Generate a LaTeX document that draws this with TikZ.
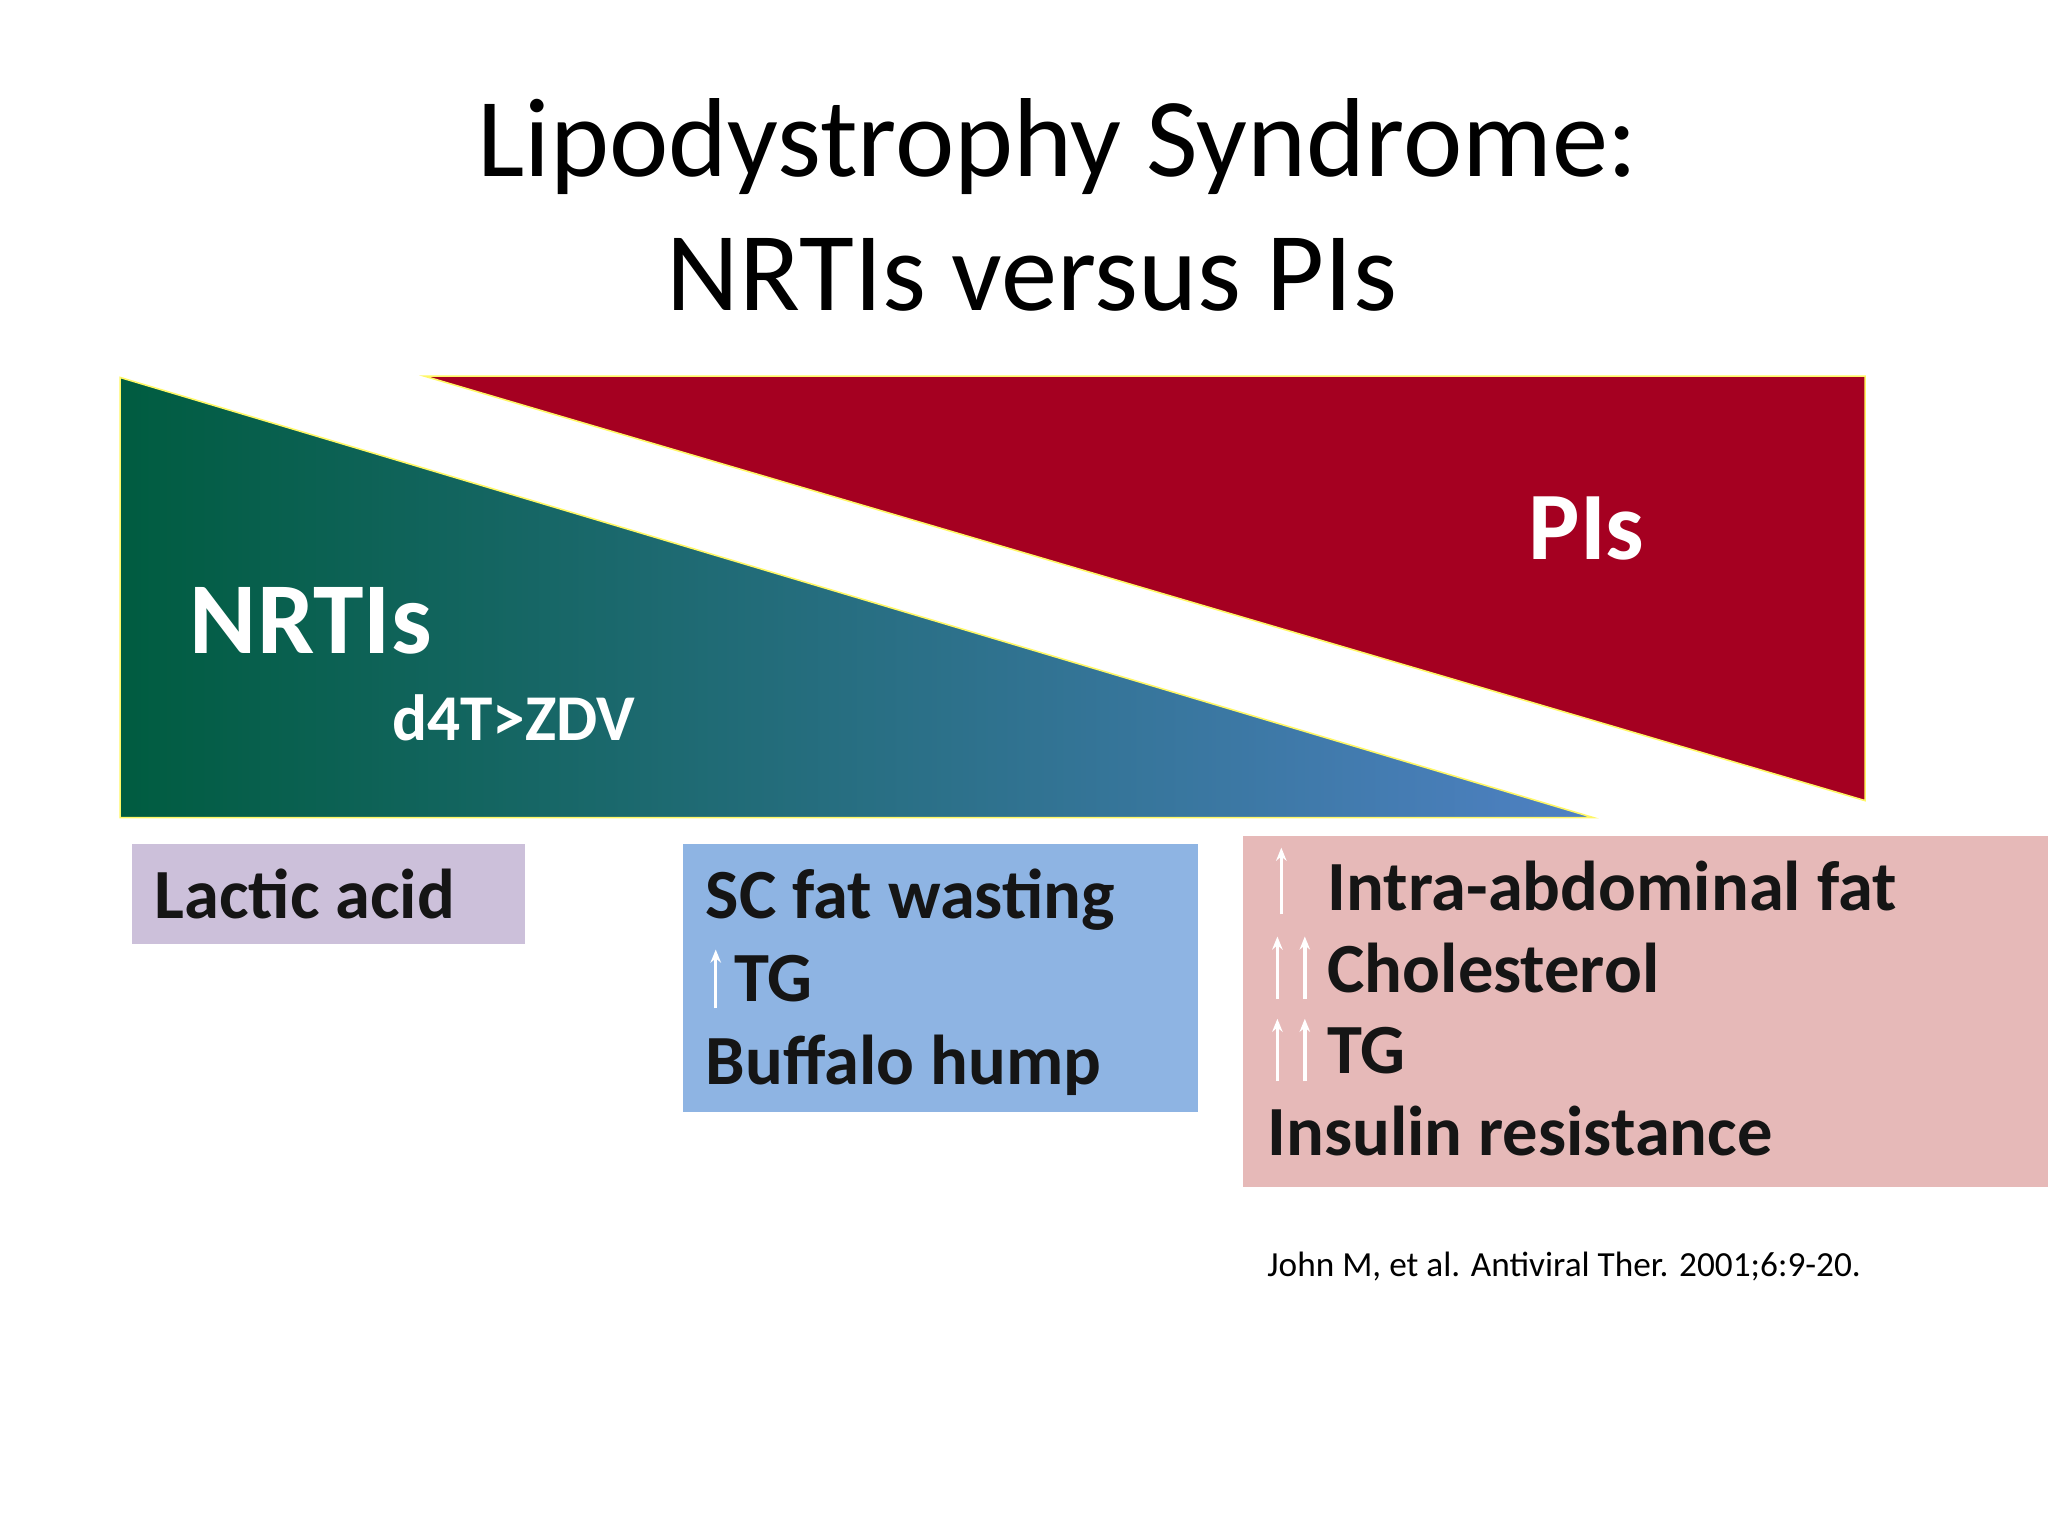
\documentclass[tikz,border=0pt]{standalone}
\usepackage{fontspec}
\setmainfont{Carlito}
\usetikzlibrary{arrows.meta}
\definecolor{gstart}{HTML}{005C40}
\definecolor{gend}{HTML}{4F81C4}
\definecolor{pired}{HTML}{A50021}
\definecolor{purp}{HTML}{CCC0DA}
\definecolor{bbox}{HTML}{8EB4E3}
\definecolor{pbox}{HTML}{E6B9B8}
\definecolor{txt}{HTML}{151515}
\tikzset{
  lbl/.style={anchor=base west,inner sep=0pt,font=\fontsize{27}{30}\selectfont\bfseries,text=txt},
  big/.style={anchor=base west,inner sep=0pt,text=white,font=\bfseries},
  up/.style={white,line width=1.3pt,-{Stealth[length=5pt,width=4pt]}},
}
\begin{document}
\begin{tikzpicture}[x=0.5pt,y=-0.5pt]
\useasboundingbox (0,0) rectangle (1568,1176);
\node[anchor=base,inner sep=0pt,font=\fontsize{43}{50}\selectfont] (t1) at (810,135) {Lipodystrophy Syndrome:};
\node[anchor=base,inner sep=0pt,font=\fontsize{43}{50}\selectfont] (t2) at (790,238) {NRTIs versus PIs};
\shade[left color=gstart,right color=gend] (92,289) -- (92,626) -- (1220,626) -- cycle;
\draw[yellow!60!white,line width=0.6pt] (92,289) -- (92,626) -- (1220,626) -- cycle;
\fill[pired] (325,288) -- (1428,288) -- (1428,613) -- cycle;
\draw[yellow!60!white,line width=0.6pt] (325,288) -- (1428,288) -- (1428,613) -- cycle;
\node[big,font=\fontsize{39}{44}\selectfont\bfseries] (nrti) at (145,500) {NRTIs};
\node[big,font=\fontsize{25}{30}\selectfont\bfseries] (d4t) at (300,567) {d4T>ZDV};
\node[big,font=\fontsize{37}{44}\selectfont\bfseries] (pis) at (1170,428) {PIs};
\fill[purp] (101,646) rectangle (402,723);
\node[lbl] (la) at (118,703) {Lactic acid};
\fill[bbox] (523,646) rectangle (917,851);
\node[lbl] (b1) at (540,703) {SC fat wasting};
\node[lbl] (b2) at (562,767) {TG};
\node[lbl] (b3) at (540,830) {Buffalo hump};
\draw[up] (548,772) -- (548,727);
\fill[pbox] (952,640) rectangle (1568,909);
\node[lbl] (p1) at (1016,697) {Intra-abdominal fat};
\node[lbl] (p2) at (1016,760) {Cholesterol};
\node[lbl] (p3) at (1016,822) {TG};
\node[lbl] (p4) at (970,885) {Insulin resistance};
\draw[up] (981,700) -- (981,649);
\draw[up] (978,765) -- (978,717);
\draw[up] (999,765) -- (999,717);
\draw[up] (978,828) -- (978,780);
\draw[up] (999,828) -- (999,780);
\node[anchor=base west,inner sep=0pt,font=\fontsize{13.5}{16}\selectfont] (cite) at (970,977) {John M, et al. Antiviral Ther. 2001;6:9-20.};
\end{tikzpicture}
\end{document}
